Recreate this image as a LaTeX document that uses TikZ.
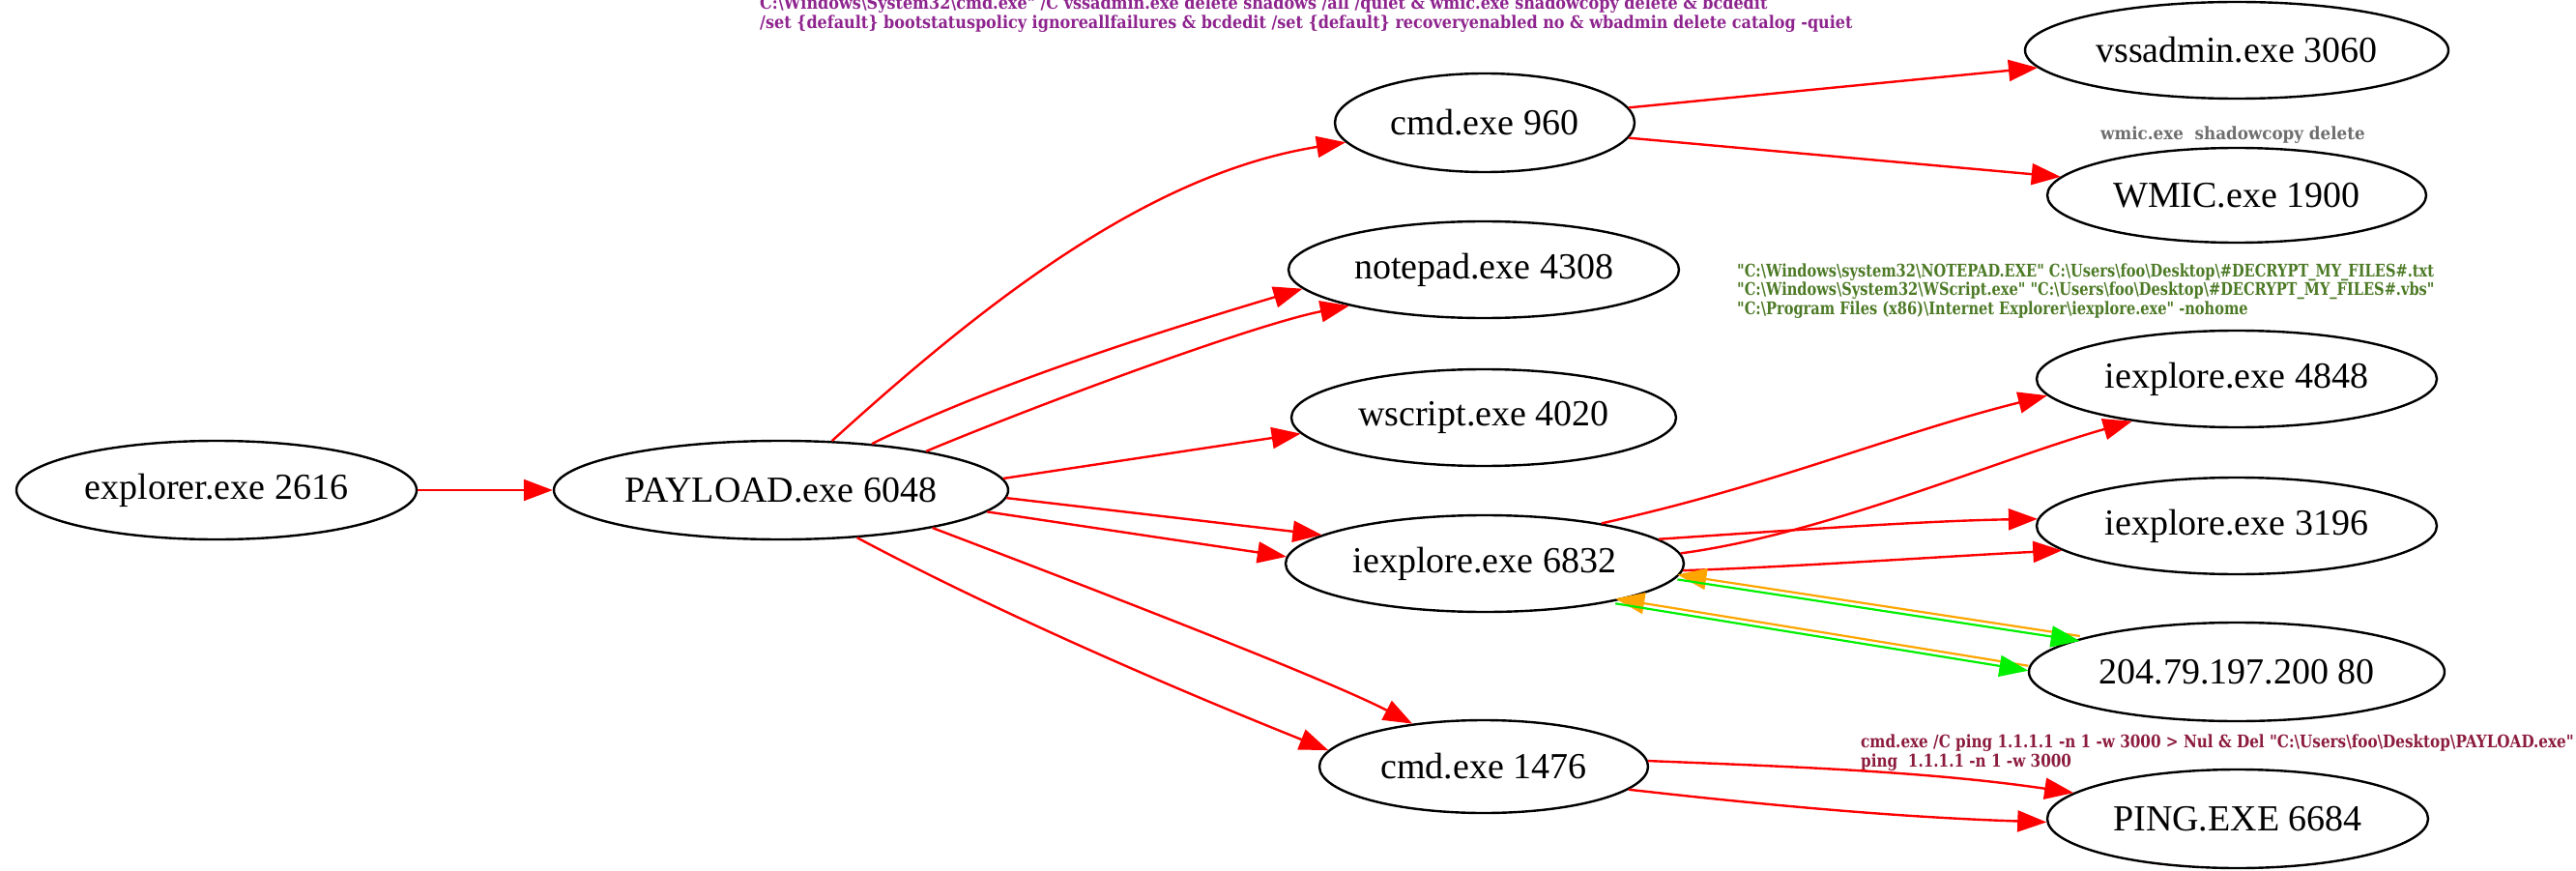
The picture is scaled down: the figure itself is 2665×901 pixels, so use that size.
\documentclass[tikz,border=0pt]{standalone}
\usepackage{fontspec}
\setmainfont{Liberation Serif}
\newfontfamily\lblpfont[FakeStretch=0.89]{DejaVu Serif}
\newfontfamily\lblgfont[FakeStretch=0.81]{DejaVu Serif}
\newfontfamily\lblcfont[FakeStretch=0.845]{DejaVu Serif}
\newfontfamily\lblwfont[FakeStretch=0.93]{DejaVu Serif}
\usetikzlibrary{arrows.meta,shapes.geometric}
\definecolor{lblpurple}{RGB}{142,36,142}
\definecolor{lblgreen}{RGB}{77,122,38}
\definecolor{lblcrimson}{RGB}{140,28,62}
\definecolor{lblgray}{RGB}{110,110,110}
\definecolor{edgeorange}{RGB}{255,165,0}
\definecolor{edgegreen}{RGB}{0,240,0}
\newcommand{\bksl}{\textbackslash}
\begin{document}
\begin{tikzpicture}[x=1pt,y=-1pt,
  proc/.style={ellipse,draw,line width=2.4pt,inner sep=0pt,font=\fontsize{38}{40}\selectfont},
  edge/.style={red,line width=2.4pt,-{Triangle[length=30pt,width=22pt]}},
  tipo/.style={edgeorange,line width=2.2pt,{Triangle[length=30pt,width=22pt]}-,transform canvas={yshift=2.5pt}},
  tipg/.style={edgegreen,line width=2.2pt,-{Triangle[length=30pt,width=22pt]},transform canvas={yshift=-2.5pt}},
  lbl/.style={align=left,inner sep=0pt,anchor=west}]
\useasboundingbox (0,0) rectangle (2665,901);

% nodes
\node[proc,minimum width=414pt,minimum height=102pt] (explorer) at (224,507) {explorer.exe 2616};
\node[proc,minimum width=470pt,minimum height=102pt] (payload) at (808,507) {PAYLOAD.exe 6048};
\node[proc,minimum width=310pt,minimum height=102pt] (cmd960) at (1536,127) {cmd.exe 960};
\node[proc,minimum width=404pt,minimum height=100pt] (notepad) at (1535,279) {notepad.exe 4308};
\node[proc,minimum width=398pt,minimum height=100pt] (wscript) at (1535,432) {wscript.exe 4020};
\node[proc,minimum width=412pt,minimum height=100pt] (iexa) at (1536,583) {iexplore.exe 6832};
\node[proc,minimum width=340pt,minimum height=96pt] (cmdb) at (1535,793) {cmd.exe 1476};
\node[proc,minimum width=438pt,minimum height=100pt] (vss) at (2314,52) {vssadmin.exe 3060};
\node[proc,minimum width=392pt,minimum height=98pt] (wmic) at (2314,202) {WMIC.exe 1900};
\node[proc,minimum width=414pt,minimum height=100pt] (iexb) at (2314,392) {iexplore.exe 4848};
\node[proc,minimum width=414pt,minimum height=100pt] (iexc) at (2314,544) {iexplore.exe 3196};
\node[proc,minimum width=430pt,minimum height=102pt] (ip) at (2314,695) {204.79.197.200 80};
\node[proc,minimum width=394pt,minimum height=102pt] (ping) at (2315,847) {PING.EXE 6684};

% labels
\node[lbl,text=lblpurple,font=\lblpfont\bfseries\fontsize{18}{20}\selectfont] (lblcmd) at (786,15) {C:\bksl Windows\bksl System32\bksl cmd.exe" /C vssadmin.exe delete shadows /all /quiet \& wmic.exe shadowcopy delete \& bcdedit\\
/set \{default\} bootstatuspolicy ignoreallfailures \& bcdedit /set \{default\} recoveryenabled no \& wbadmin delete catalog -quiet};
\node[lbl,text=lblgray,font=\lblwfont\bfseries\fontsize{18}{20}\selectfont] (lblwmic) at (2173,140) {wmic.exe\ \ shadowcopy delete};
\node[lbl,text=lblgreen,font=\lblgfont\bfseries\fontsize{18}{19.5}\selectfont] (lbliex) at (1797,301) {"C:\bksl Windows\bksl system32\bksl NOTEPAD.EXE" C:\bksl Users\bksl foo\bksl Desktop\bksl\#DECRYPT\_MY\_FILES\#.txt\\
"C:\bksl Windows\bksl System32\bksl WScript.exe" "C:\bksl Users\bksl foo\bksl Desktop\bksl\#DECRYPT\_MY\_FILES\#.vbs"\\
"C:\bksl Program Files (x86)\bksl Internet Explorer\bksl iexplore.exe" -nohome};
\node[lbl,text=lblcrimson,font=\lblcfont\bfseries\fontsize{18}{20}\selectfont] (lblping) at (1925,779) {cmd.exe /C ping 1.1.1.1 -n 1 -w 3000 > Nul \& Del "C:\bksl Users\bksl foo\bksl Desktop\bksl PAYLOAD.exe"\\
ping\ \ 1.1.1.1 -n 1 -w 3000};

% edges
\draw[edge] (explorer.east) -- (payload.west);
\draw[edge] (payload.44) .. controls +(165,-150) and +(-200,32) .. (cmd960.188);
\draw[edge] (payload.27) .. controls +(130,-65) and +(-120,36) .. (notepad.186);
\draw[edge] (payload.15) .. controls +(120,-50) and +(-100,20) .. (notepad.195);
\draw[edge] (payload.3.5) -- (wscript.185);
\draw[edge] (payload.358) -- (iexa.170);
\draw[edge] (payload.354) -- (iexa.178);
\draw[edge] (payload.346) .. controls +(150,57) and +(-90,-47) .. (cmdb.149);
\draw[edge] (payload.328) .. controls +(150,80) and +(-150,-60) .. (cmdb.174.5);
\draw[edge] (cmd960.6) -- (vss.185.6);
\draw[edge] (cmd960.354) -- (wmic.174);
\draw[edge] (iexa.19.6) .. controls +(180,-40) and +(-160,40) .. (iexb.185);
\draw[edge] (iexa.3.7) .. controls +(150,-20) and +(-140,40) .. (iexb.202);
\draw[edge] (iexa.8.3) .. controls +(120,-8) and +(-120,2) .. (iexc.178);
\draw[edge] (iexa.358) .. controls +(120,-4) and +(-120,6) .. (iexc.188);
\draw[tipo] (iexa.356) -- (ip.168);
\draw[tipg] (iexa.356) -- (ip.168);
\draw[tipo] (iexa.344) -- (ip.179);
\draw[tipg] (iexa.344) -- (ip.179);
\draw[edge] (cmdb.2) .. controls +(150,6) and +(-150,-22) .. (ping.171);
\draw[edge] (cmdb.351) .. controls +(150,17) and +(-150,-5) .. (ping.181);
\end{tikzpicture}
\end{document}
